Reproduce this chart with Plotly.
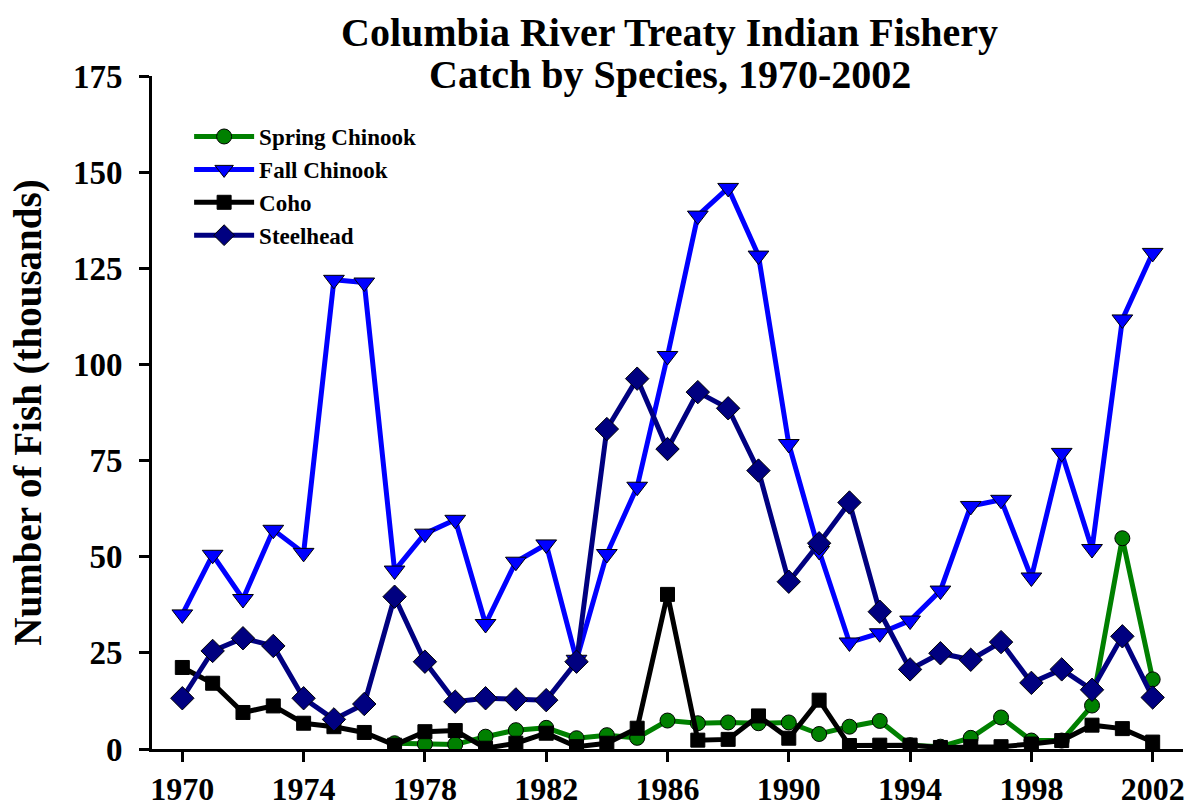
import plotly.graph_objects as go

# Catch by species, thousands of fish
years = list(range(1970, 2003))

spring_chinook = [None, None, None, None, None, None, None,
                  1.5, 1.3, 1.2, 3.2, 4.9, 5.5, 2.8, 3.6, 2.9, 7.4, 6.7, 6.9, 6.7,
                  6.9, 3.9, 5.8, 7.3, 1.0, 0.6, 2.9, 8.2, 2.2, 2.2, 11.3, 54.8, 18.1]

fall_chinook = [35.0, 50.5, 39.0, 57.0, 51.0, 122.0, 121.3, 46.4, 56.0, 59.6,
                32.5, 48.7, 53.2, 23.2, 50.7, 68.2, 102.2, 138.7, 145.9, 128.3,
                79.3, 51.5, 27.7, 30.1, 33.4, 41.2, 63.2, 64.8, 44.6, 77.0,
                52.0, 111.7, 129.0]

coho = [21.2, 17.1, 9.5, 11.2, 6.7, 5.8, 4.3, 1.0, 4.5, 4.8,
        0.2, 1.5, 4.1, 0.6, 1.5, 5.4, 40.2, 2.3, 2.5, 8.6,
        2.8, 12.7, 0.9, 1.0, 1.0, 0.4, 0.6, 0.6, 1.3, 2.2,
        6.2, 5.3, 1.8]

steelhead = [13.2, 25.5, 28.8, 26.8, 13.2, 7.7, 11.7, 39.6, 22.7, 12.3,
             13.2, 12.9, 12.7, 22.7, 83.2, 96.3, 78.0, 92.8, 88.6, 72.4,
             43.5, 53.5, 64.1, 35.7, 20.7, 24.9, 23.2, 27.8, 17.2, 20.7,
             15.4, 29.3, 13.4]

x_ticks = list(range(1970, 2003, 4))
y_ticks = list(range(0, 176, 25))

FONT = "Liberation Serif, Times New Roman, serif"

series = [
    ("Spring Chinook", spring_chinook, "#008000", "circle", 15),
    ("Fall Chinook", fall_chinook, "#0000FF", "triangle-down", 18),
    ("Coho", coho, "#000000", "square", 14),
    ("Steelhead", steelhead, "#000080", "diamond", 18),
]

fig = go.Figure()
for name, vals, color, symbol, size in series:
    fig.add_trace(go.Scatter(
        x=years, y=vals, name=name, mode="lines+markers",
        line=dict(color=color, width=5),
        marker=dict(symbol=symbol, size=size, color=color,
                    line=dict(color="#000000", width=1)),
        connectgaps=False,
    ))

axis_common = dict(
    showline=True, linecolor="#000000", linewidth=3,
    ticks="outside", ticklen=10, tickwidth=3, tickcolor="#000000",
    showgrid=False, zeroline=False, automargin=False,
    tickfont=dict(family=FONT, size=33, color="#000000", weight="bold"),
)

fig.update_xaxes(range=[1969, 2003], tickvals=x_ticks, ticklabelstandoff=0,
                 **axis_common)
fig.update_xaxes(tickfont_size=32)
fig.update_yaxes(range=[0, 175], tickvals=y_ticks, ticklabelstandoff=10,
                 title=dict(text="Number of Fish (thousands)", standoff=20,
                            font=dict(family=FONT, size=39, color="#000000",
                                      weight="bold")),
                 **axis_common)

title_font = dict(family=FONT, size=40, color="#000000", weight="bold")
fig.add_annotation(text="Columbia River Treaty Indian Fishery",
                   xref="paper", yref="paper", x=0.502, y=1.064,
                   xanchor="center", yanchor="middle", showarrow=False,
                   font=title_font)
fig.add_annotation(text="Catch by Species, 1970-2002",
                   xref="paper", yref="paper", x=0.502, y=1.0015,
                   xanchor="center", yanchor="middle", showarrow=False,
                   font=title_font)

fig.update_layout(
    width=1188, height=812,
    margin=dict(l=152, r=5, t=76, b=63),
    plot_bgcolor="#FFFFFF", paper_bgcolor="#FFFFFF",
    showlegend=True,
    legend=dict(x=0.036, y=0.942, xanchor="left", yanchor="top",
                bgcolor="rgba(0,0,0,0)", borderwidth=0, itemwidth=60,
                font=dict(family=FONT, size=23, color="#000000", weight="bold")),
)

fig.write_html("out.html")
